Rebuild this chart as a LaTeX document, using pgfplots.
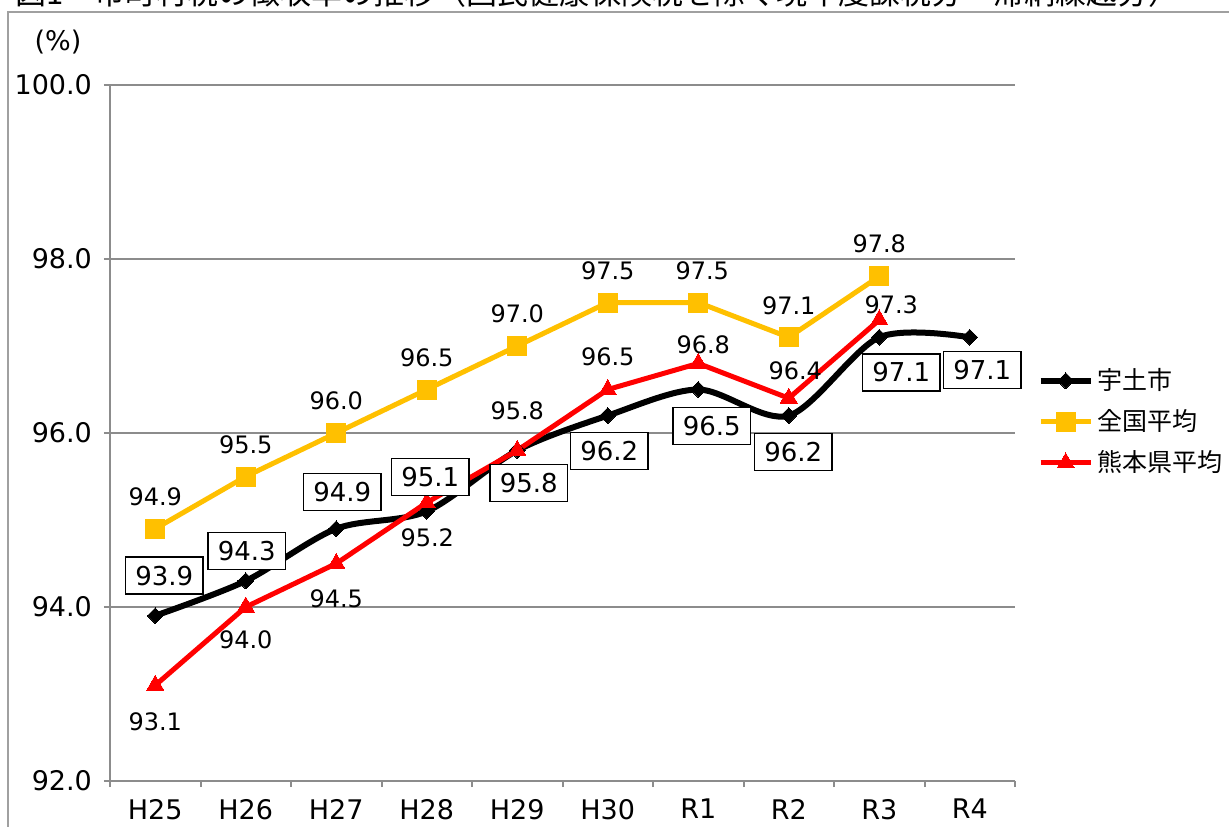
\documentclass[border=0pt]{standalone}
\usepackage{fontspec}
\setmainfont{DejaVu Sans}
\newfontfamily\cjk{Noto Sans CJK JP}
\usepackage{pgfplots}
\usepackage{pgfplotstable}
\pgfplotsset{compat=1.18}
\definecolor{ygold}{RGB}{255,192,0}
\definecolor{gridgray}{RGB}{140,140,140}
\definecolor{framegray}{RGB}{160,160,160}

\pgfplotstableread{
x y dx dy
0 93.9 4.5 20
1 94.3 0.5 15
2 94.9 3 18.3
3 95.1 1.75 17.25
4 95.8 5.75 -16.3
5 96.2 0.75 -17.7
6 96.5 6.75 -18.25
7 96.2 2.25 -18.2
8 97.1 11 -17.5
9 97.1 6.25 -16.25
}\udo

\pgfplotstableread{
x y dx dy
0 94.9 0 16
1 95.5 0 16
2 96.0 0 16
3 96.5 0 16
4 97.0 0 16
5 97.5 0 16
6 97.5 2 16
7 97.1 0 16
8 97.8 0 16.5
}\zenkoku

\pgfplotstableread{
x y dx dy
0 93.1 0 -18
1 94.0 0 -16.5
2 94.5 0 -17.75
3 95.2 0.25 -17.7
4 95.8 0 20
5 96.5 0 16.25
6 96.8 2.5 9.2
7 96.4 3.25 13.5
8 97.3 6 7.5
}\kumamoto

\begin{document}
\begin{tikzpicture}
\useasboundingbox (-55pt,-22.5pt) rectangle (559.5pt,390.5pt);
\draw[framegray, line width=1pt] (-51pt,-30pt) -- (-51pt,384.5pt) -- (570pt,384.5pt);
\node[anchor=base west, font=\cjk\fontsize{15.5}{18}\selectfont, inner sep=0pt] at (-47.5pt,388pt) {図1　市町村税の徴収率の推移（国民健康保険税を除く現年度課税分・滞納繰越分）};
\node[font=\fontsize{13.5}{16}\selectfont] at (-26pt,369.5pt) {(\%)};
\begin{axis}[
  at={(0,0)}, anchor=south west,
  scale only axis, width=452.5pt, height=348pt,
  clip=false,
  xmin=-0.5, xmax=9.5, ymin=92, ymax=100,
  axis x line*=bottom, axis y line*=left,
  axis line style={gridgray, line width=1pt, -},
  xtick={0,...,9},
  xticklabels={H25,H26,H27,H28,H29,H30,R1,R2,R3,R4},
  minor xtick={-0.5,0.5,...,9.5},
  major x tick style={draw=none},
  ytick={92,94,...,100},
  ymajorgrids,
  grid style={gridgray, line width=1pt},
  tick align=outside,
  major tick length=3pt, minor tick length=3pt,
  tick style={gridgray, line width=1pt},
  tick label style={font=\fontsize{13.5}{16}\selectfont},
  xticklabel style={yshift=-2.5pt},
  /pgf/number format/assume math mode=true,
  yticklabel style={xshift=-2.5pt, /pgf/number format/.cd, fixed, fixed zerofill, precision=1},
  legend style={at={(1.018,0.516)}, anchor=west, draw=none, fill=none,
    font=\cjk\fontsize{12.5}{14}\selectfont, row sep=4.5pt},
  legend cell align=left,
  legend image code/.code={\draw[mark repeat=2,mark phase=2] plot coordinates {(0pt,0pt) (12.5pt,0pt) (25pt,0pt)};},
]
\addplot[black, line width=3pt, smooth, mark=square*, mark size=2.8pt, mark options={line width=0pt, rotate=45}] table[x=x,y=y] {\udo};
\addlegendentry{宇土市}
\addplot[ygold, line width=2.5pt, mark=square*, mark size=4.75pt, mark options={line width=0pt}] table[x=x,y=y] {\zenkoku};
\addlegendentry{全国平均}
\addplot[red, line width=2.5pt, mark=triangle*, mark size=5pt, mark options={line width=0pt}] table[x=x,y=y] {\kumamoto};
\addlegendentry{熊本県平均}

\addplot[draw=none, mark=none, forget plot, point meta=y,
  visualization depends on={\thisrow{dx}\as\dx},
  visualization depends on={\thisrow{dy}\as\dy},
  nodes near coords={\pgfmathprintnumber[fixed,fixed zerofill,precision=1,assume math mode=true]{\pgfplotspointmeta}},
  nodes near coords style={anchor=center, xshift=\dx pt, yshift=\dy pt, font=\fontsize{12}{14}\selectfont, text=black}]
  table[x=x,y=y] {\zenkoku};
\addplot[draw=none, mark=none, forget plot, point meta=y,
  visualization depends on={\thisrow{dx}\as\dx},
  visualization depends on={\thisrow{dy}\as\dy},
  nodes near coords={\pgfmathprintnumber[fixed,fixed zerofill,precision=1,assume math mode=true]{\pgfplotspointmeta}},
  nodes near coords style={anchor=center, xshift=\dx pt, yshift=\dy pt, font=\fontsize{12}{14}\selectfont, text=black}]
  table[x=x,y=y] {\kumamoto};
\addplot[draw=none, mark=none, forget plot, point meta=y,
  visualization depends on={\thisrow{dx}\as\dx},
  visualization depends on={\thisrow{dy}\as\dy},
  nodes near coords={\pgfmathprintnumber[fixed,fixed zerofill,precision=1,assume math mode=true]{\pgfplotspointmeta}},
  nodes near coords style={anchor=center, xshift=\dx pt, yshift=\dy pt, font=\fontsize{13}{15}\selectfont, text=black,
    draw=black, line width=0.75pt, fill=white, inner xsep=5pt, minimum height=18.5pt}]
  table[x=x,y=y] {\udo};
\end{axis}
\end{tikzpicture}
\end{document}
